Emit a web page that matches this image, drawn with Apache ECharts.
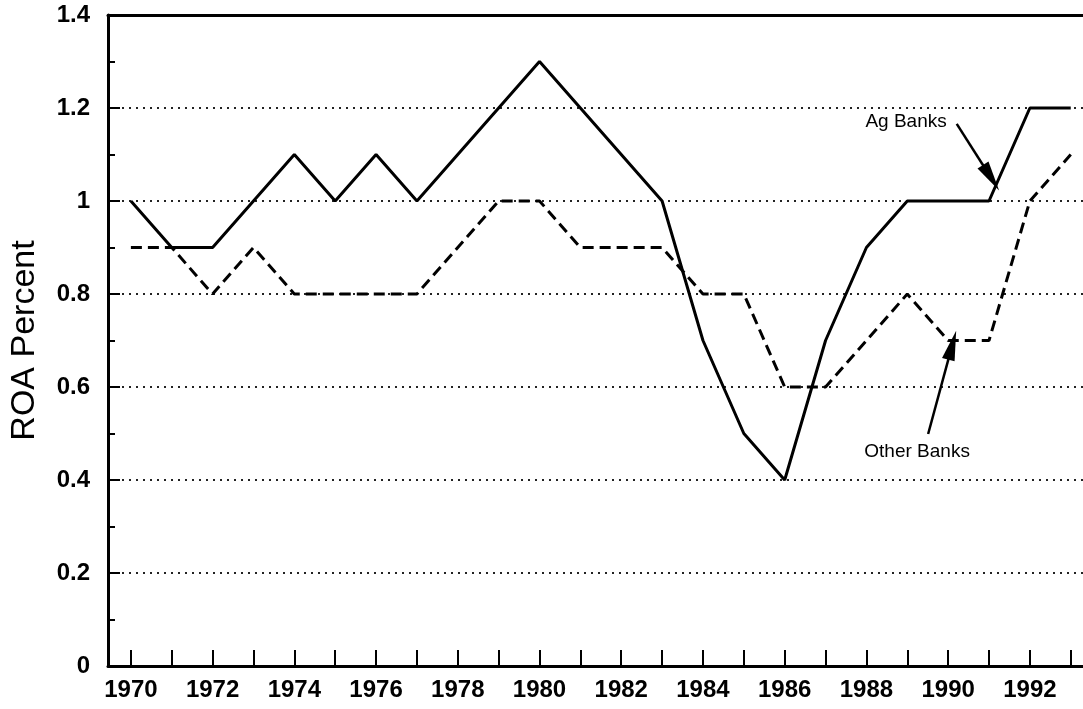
<!DOCTYPE html>
<html>
<head>
<meta charset="utf-8">
<script src="https://cdn.jsdelivr.net/npm/echarts@6/dist/echarts.min.js"></script>
<style>
  html, body { margin: 0; padding: 0; background: #fff; }
  #main { width: 1083px; height: 709px; }
</style>
</head>
<body>
<div id="main"></div>
<script>
var years = [1970, 1971, 1972, 1973, 1974, 1975, 1976, 1977, 1978, 1979, 1980, 1981,
  1982, 1983, 1984, 1985, 1986, 1987, 1988, 1989, 1990, 1991, 1992, 1993];
var agBanks = [1.0, 0.9, 0.9, 1.0, 1.1, 1.0, 1.1, 1.0, 1.1, 1.2, 1.3, 1.2,
  1.1, 1.0, 0.7, 0.5, 0.4, 0.7, 0.9, 1.0, 1.0, 1.0, 1.2, 1.2];
var otherBanks = [0.9, 0.9, 0.8, 0.9, 0.8, 0.8, 0.8, 0.8, 0.9, 1.0, 1.0, 0.9,
  0.9, 0.9, 0.8, 0.8, 0.6, 0.6, 0.7, 0.8, 0.7, 0.7, 1.0, 1.1];
var labelYears = [1970, 1972, 1974, 1976, 1978, 1980, 1982, 1984, 1986, 1988, 1990, 1992];

// annotation: label position, arrow start, arrow tip (data coords)
var agNote = { text: 'Ag Banks', at: [1988.97, 1.17], from: [1990.21, 1.166], to: [1991.05, 1.05] };
var otherNote = { text: 'Other Banks', at: [1989.24, 0.46], from: [1989.51, 0.499], to: [1990.1, 0.69] };

function pairs(xs, ys) {
  var out = [];
  for (var i = 0; i < xs.length; i++) out.push([xs[i], ys[i]]);
  return out;
}

var font = 'Liberation Sans, Arial, Helvetica, sans-serif';
var chart = echarts.init(document.getElementById('main'));

function arrowLine(note) {
  return {
    silent: true,
    symbol: ['none', 'triangle'],
    symbolSize: [13, 30],
    label: { show: false },
    lineStyle: { color: '#000', width: 2.5, type: 'solid' },
    data: [[{ coord: note.from }, { coord: note.to }]]
  };
}

var option = {
  animation: false,
  grid: { left: 106, right: 0, top: 15, bottom: 43 },
  xAxis: [{
    type: 'value',
    min: 1969.44,
    max: 1993.3,
    axisLine: { show: true, lineStyle: { color: '#000', width: 3 } },
    axisTick: { show: true, inside: true, length: 16, customValues: years, lineStyle: { color: '#000', width: 2 } },
    axisLabel: {
      customValues: labelYears, color: '#000', fontSize: 24, fontWeight: 'bold', fontFamily: font, margin: 12,
      formatter: function (v) { return String(v); }
    },
    splitLine: { show: false }
  }, {
    type: 'value',
    position: 'top',
    min: 1969.44,
    max: 1993.3,
    axisLine: { show: true, lineStyle: { color: '#000', width: 3 } },
    axisTick: { show: false },
    axisLabel: { show: false },
    splitLine: { show: false }
  }],
  yAxis: {
    type: 'value',
    min: 0,
    max: 1.4,
    interval: 0.2,
    name: 'ROA Percent',
    nameLocation: 'middle',
    nameGap: 66,
    nameTextStyle: { color: '#000', fontSize: 34, fontFamily: font },
    axisLine: { show: true, lineStyle: { color: '#000', width: 3 } },
    axisTick: { show: true, inside: true, length: 12, lineStyle: { color: '#000', width: 2 } },
    minorTick: { show: true, splitNumber: 2, length: 7, lineStyle: { color: '#000', width: 2 } },
    axisLabel: {
      color: '#000', fontSize: 24, fontWeight: 'bold', fontFamily: font, margin: 18,
      formatter: function (v) { return String(Math.round(v * 10) / 10); }
    },
    splitLine: { show: true, lineStyle: { color: '#222', width: 2, type: [2, 5] } }
  },
  series: [{
    name: 'Ag Banks',
    type: 'line',
    data: pairs(years, agBanks),
    symbol: 'none',
    lineStyle: { color: '#000', width: 3, type: 'solid' },
    markLine: arrowLine(agNote)
  }, {
    name: 'Other Banks',
    type: 'line',
    data: pairs(years, otherBanks),
    symbol: 'none',
    lineStyle: { color: '#000', width: 3, type: [11, 6] },
    markLine: arrowLine(otherNote)
  }]
};

chart.setOption(option);

var notes = [agNote, otherNote];
var graphics = [];
for (var i = 0; i < notes.length; i++) {
  var p = chart.convertToPixel({ gridIndex: 0 }, notes[i].at);
  graphics.push({
    type: 'text',
    x: p[0],
    y: p[1],
    style: {
      text: notes[i].text,
      fill: '#000',
      font: '19px ' + font,
      align: 'center',
      verticalAlign: 'middle'
    }
  });
}
chart.setOption({ graphic: graphics });
</script>
</body>
</html>
